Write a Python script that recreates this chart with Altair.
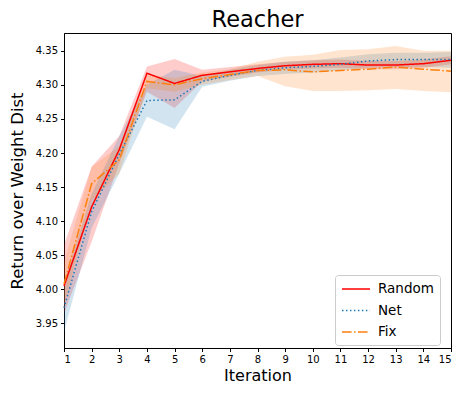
import altair as alt
import pandas as pd

iterations = list(range(1, 16))
series_names = ["Random", "Net", "Fix"]

random_mean = [4.005, 4.121, 4.205, 4.317, 4.302, 4.314, 4.319, 4.324, 4.328, 4.330, 4.331, 4.329, 4.329, 4.331, 4.336]
random_lo = [3.965, 4.070, 4.185, 4.290, 4.266, 4.305, 4.312, 4.318, 4.322, 4.324, 4.325, 4.323, 4.323, 4.325, 4.330]
random_hi = [4.065, 4.180, 4.225, 4.327, 4.338, 4.322, 4.326, 4.330, 4.334, 4.336, 4.337, 4.335, 4.335, 4.337, 4.342]

net_mean = [3.973, 4.114, 4.198, 4.277, 4.278, 4.305, 4.314, 4.321, 4.325, 4.327, 4.330, 4.335, 4.337, 4.337, 4.337]
net_lo = [3.937, 4.090, 4.170, 4.253, 4.235, 4.297, 4.306, 4.313, 4.316, 4.318, 4.321, 4.325, 4.326, 4.326, 4.325]
net_hi = [4.010, 4.140, 4.225, 4.300, 4.322, 4.313, 4.322, 4.329, 4.334, 4.336, 4.340, 4.345, 4.347, 4.347, 4.348]

fix_mean = [4.008, 4.155, 4.190, 4.305, 4.300, 4.309, 4.315, 4.321, 4.322, 4.319, 4.321, 4.323, 4.326, 4.323, 4.320]
fix_lo = [3.975, 4.130, 4.170, 4.295, 4.290, 4.300, 4.307, 4.313, 4.298, 4.291, 4.291, 4.292, 4.294, 4.291, 4.289]
fix_hi = [4.040, 4.180, 4.210, 4.315, 4.310, 4.318, 4.323, 4.334, 4.341, 4.344, 4.351, 4.352, 4.357, 4.350, 4.350]

y_ticks = [3.95, 4.00, 4.05, 4.10, 4.15, 4.20, 4.25, 4.30, 4.35]

rows = []
for name, m, lo, hi in [("Random", random_mean, random_lo, random_hi),
                        ("Net", net_mean, net_lo, net_hi),
                        ("Fix", fix_mean, fix_lo, fix_hi)]:
    for i, x in enumerate(iterations):
        rows.append({"Iteration": x, "series": name, "mean": m[i], "lo": lo[i], "hi": hi[i]})
df = pd.DataFrame(rows)

FONT = "DejaVu Sans"
colors = ["#ff0000", "#1f77b4", "#ff7f0e"]
dashes = [[1, 0], [1.5, 2.475], [9.6, 2.4, 1.5, 2.4]]

x_enc = alt.X("Iteration:Q",
              scale=alt.Scale(domain=[1, 15], nice=False, zero=False),
              axis=alt.Axis(values=iterations, format="d", title="Iteration",
                            titleFontSize=16, titlePadding=3))
y_scale = alt.Scale(domain=[3.914, 4.376], nice=False, zero=False)
y_axis = alt.Axis(values=y_ticks, format=".2f", title="Return over Weight Dist",
                  titleFontSize=16.5, titlePadding=10)

legend = alt.Legend(title=None, orient="none", legendX=271, legendY=242,
                    symbolType="M-1,0H3", symbolSize=196,
                    symbolStrokeWidth=1.5, labelFontSize=13.5,
                    labelFont=FONT, labelOffset=21, rowPadding=6.5,
                    padding=6, fillColor="white", strokeColor="#cccccc",
                    cornerRadius=3, labelColor="black")

base = alt.Chart(df)

band_layers = []
for name, c in zip(series_names, colors):
    band_layers.append(
        base.transform_filter(alt.datum.series == name)
        .mark_area(opacity=0.2, color=c, strokeWidth=0)
        .encode(x=x_enc, y=alt.Y("lo:Q", scale=y_scale, axis=y_axis), y2="hi:Q")
    )

lines = base.mark_line(strokeWidth=1.5).encode(
    x=x_enc,
    y=alt.Y("mean:Q", scale=y_scale, axis=y_axis),
    color=alt.Color("series:N", scale=alt.Scale(domain=series_names, range=colors),
                    sort=series_names, legend=legend),
    strokeDash=alt.StrokeDash("series:N", scale=alt.Scale(domain=series_names, range=dashes),
                              sort=series_names, legend=legend),
)

chart = alt.layer(*band_layers, lines).properties(
    width=387, height=315,
    title=alt.TitleParams("Reacher", fontSize=22.5, font=FONT, fontWeight="normal",
                          anchor="middle", offset=1.5, color="black"),
    autosize=alt.AutoSizeParams(type="none"),
    padding={"left": 56, "top": 25, "right": 6, "bottom": 37},
).configure_view(stroke="black", strokeWidth=1).configure_axis(
    grid=False, domainColor="black", tickColor="black", labelColor="black",
    titleColor="black", labelFont=FONT, titleFont=FONT, labelFontSize=10,
    titleFontWeight="normal", tickSize=3.5, labelPadding=3, domainWidth=1, tickWidth=1,
)

chart.save("out.html", embed_options={"renderer": "svg", "actions": False})
